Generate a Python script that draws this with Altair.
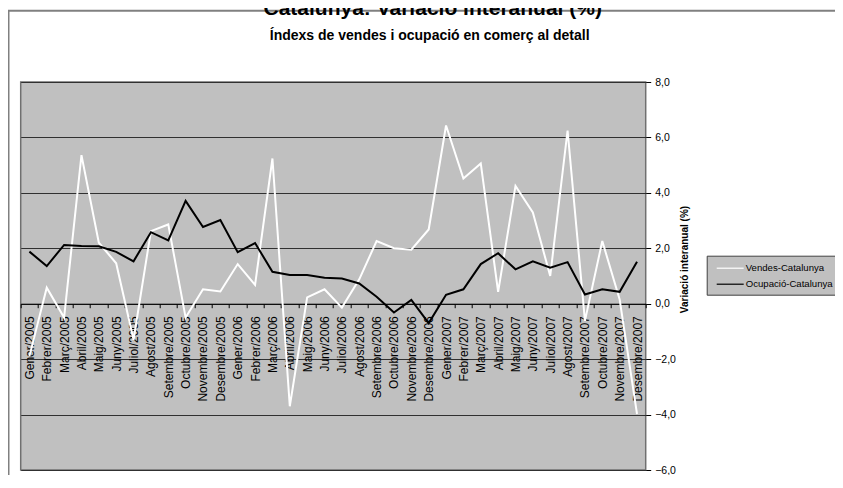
import altair as alt
import pandas as pd

mesos = [
    "Gener/2005", "Febrer/2005", "Març/2005", "Abril/2005", "Maig/2005", "Juny/2005",
    "Juliol/2005", "Agost/2005", "Setembre/2005", "Octubre/2005", "Novembre/2005", "Desembre/2005",
    "Gener/2006", "Febrer/2006", "Març/2006", "Abril/2006", "Maig/2006", "Juny/2006",
    "Juliol/2006", "Agost/2006", "Setembre/2006", "Octubre/2006", "Novembre/2006", "Desembre/2006",
    "Gener/2007", "Febrer/2007", "Març/2007", "Abril/2007", "Maig/2007", "Juny/2007",
    "Juliol/2007", "Agost/2007", "Setembre/2007", "Octubre/2007", "Novembre/2007", "Desembre/2007",
]
vendes = [
    -1.9, 0.58, -0.5, 5.36, 2.2, 1.46, -1.3, 2.62, 2.86, -0.5, 0.52, 0.44,
    1.43, 0.68, 5.24, -3.7, 0.23, 0.52, -0.14, 0.88, 2.26, 2.0, 1.95, 2.68,
    6.43, 4.52, 5.06, 0.43, 4.25, 3.29, 1.0, 6.25, -0.62, 2.26, 0.15, -3.98,
]
ocupacio = [
    1.88, 1.36, 2.12, 2.08, 2.07, 1.87, 1.53, 2.58, 2.28, 3.71, 2.77, 3.02,
    1.86, 2.19, 1.15, 1.04, 1.04, 0.94, 0.91, 0.73, 0.25, -0.32, 0.14, -0.70,
    0.32, 0.52, 1.43, 1.82, 1.24, 1.53, 1.30, 1.50, 0.33, 0.52, 0.43, 1.51,
]
series = ["Vendes-Catalunya", "Ocupació-Catalunya"]
colors = ["white", "black"]
y_ticks = [-6, -4, -2, 0, 2, 4, 6, 8]
titol = "Catalunya: Variació interanual (%)"
subtitol = "Índexs de vendes i ocupació en comerç al detall"
titol_eix = "Variació interanual (%)"

df = pd.DataFrame({
    "mes": mesos * 2,
    "valor": vendes + ocupacio,
    "serie": [series[0]] * len(mesos) + [series[1]] * len(mesos),
})

W, H = 625, 388
PAD_L, PAD_T, PAD_R, PAD_B = 12.7, 74, 189.3, 5
FONT = "Liberation Sans"
y0 = H * 8 / 14  # pixel position of value 0 from top

x_enc = alt.X(
    "mes:N", sort=mesos, bandPosition=0.5,
    scale=alt.Scale(type="band", paddingInner=0, paddingOuter=0),
    axis=alt.Axis(
        title=None, offset=-(H - y0), labelAngle=270, labelAlign="right",
        labelBaseline="middle", labelFontSize=12, labelColor="black",
        labelPadding=8, tickBand="extent", tickSize=4, tickColor="black",
        domainColor="black", domainWidth=1, grid=False, labelOverlap=False,
        labelFont=FONT,
    ),
)
y_enc = alt.Y(
    "valor:Q",
    scale=alt.Scale(domain=[-6, 8], nice=False, zero=False),
    axis=alt.Axis(
        orient="right", values=y_ticks,
        labelExpr="replace(format(datum.value, '.1f'), '.', ',')",
        grid=True, gridColor="#303030", gridWidth=1, domain=False,
        tickSize=5, tickColor="black", labelPadding=4, labelFontSize=10.5,
        labelColor="black", labelFont=FONT,
        title=titol_eix, titleFontSize=10, titleFontWeight="bold", titleColor="black",
        titleAngle=270, titleX=39, titleY=177, titleAlign="center",
        titleBaseline="middle", titleFont=FONT,
    ),
)
color_enc = alt.Color(
    "serie:N",
    scale=alt.Scale(domain=series, range=colors),
    legend=alt.Legend(
        title=None, orient="none", legendX=686, legendY=173.7, direction="vertical",
        fillColor="#C0C0C0", strokeColor="#404040", padding=5,
        symbolType="M-2,0H2", symbolSize=182, symbolStrokeWidth=1.2,
        labelFontSize=9.6, labelColor="black", labelFont=FONT,
        labelOffset=8, symbolOffset=11, rowPadding=3,
    ),
)

base = alt.Chart(df)
linia_vendes = base.transform_filter(alt.datum.serie == series[0]).mark_line(
    strokeWidth=2
).encode(x=x_enc, y=y_enc, color=color_enc)
linia_ocup = base.transform_filter(alt.datum.serie == series[1]).mark_line(
    strokeWidth=2
).encode(x=x_enc, y=y_enc, color=color_enc)

one = alt.Data(values=[{"k": 1}])
right_edge = W + PAD_R
bottom_edge = H + PAD_B
marc_top = alt.Chart(one).mark_rule(stroke="#808080", strokeWidth=2).encode(
    x=alt.value(-PAD_L), x2=alt.value(right_edge), y=alt.value(-71.2)
)
marc_left = alt.Chart(one).mark_rule(stroke="#808080", strokeWidth=2).encode(
    x=alt.value(-PAD_L + 0.5), y=alt.value(-71.2), y2=alt.value(bottom_edge)
)

t1 = alt.Chart(one).mark_text(
    text=titol, font=FONT, fontSize=21, fontWeight="bold", color="black",
    align="center", baseline="alphabetic",
).encode(x=alt.value(412), y=alt.value(-67))
t2 = alt.Chart(one).mark_text(
    text=subtitol, font=FONT, fontSize=14, fontWeight="bold", color="black",
    align="center", baseline="alphabetic",
).encode(x=alt.value(409), y=alt.value(-42))

chart = alt.layer(marc_top, marc_left, t1, t2, linia_vendes, linia_ocup).properties(
    width=W, height=H,
    autosize=alt.AutoSizeParams(type="none"),
    padding={"left": PAD_L, "top": PAD_T, "right": PAD_R, "bottom": PAD_B},
).configure(
    font=FONT
).configure_view(
    fill="#C0C0C0", stroke="#707070", strokeWidth=1.5
)

chart.save("out.html", embed_options={"renderer": "svg", "actions": False})
